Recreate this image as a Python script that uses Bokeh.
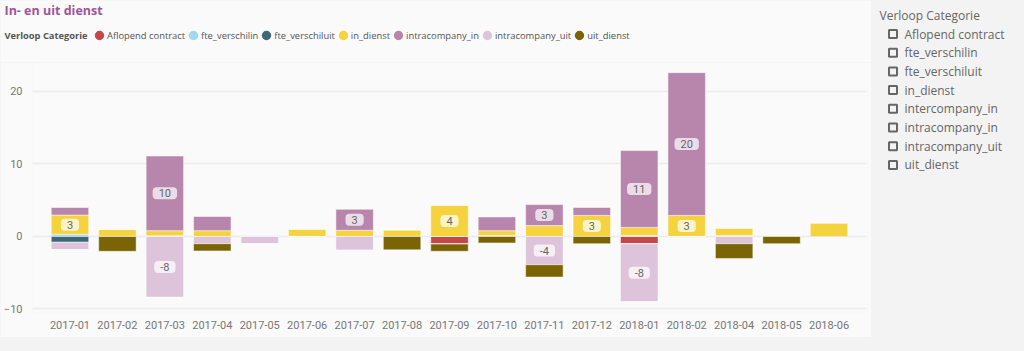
import numpy as np
from bokeh.plotting import figure
from bokeh.models import FactorRange, Range1d, Legend, LegendItem, FixedTicker
from bokeh.layouts import row, column
from bokeh.core.properties import value
from bokeh.embed import file_html
from bokeh.resources import INLINE

months = ["2017-01", "2017-02", "2017-03", "2017-04", "2017-05", "2017-06",
          "2017-07", "2017-08", "2017-09", "2017-10", "2017-11", "2017-12",
          "2018-01", "2018-02", "2018-04", "2018-05", "2018-06"]

aflopend_contract = [0, 0, 0, 0, 0, 0, 0, 0, -1.05, 0, 0, 0, -1.0, 0, 0, 0, 0]
fte_verschilin    = [0.3, 0, 0.1, 0, 0, 0, 0, 0, 0, 0.15, 0, 0, 0.15, 0, 0.15, 0, 0]
fte_verschiluit   = [-0.8, 0, 0, 0, 0, 0, 0, 0, 0, 0, 0, 0, 0, 0, 0, 0, -0.15]
in_dienst         = [2.65, 0.95, 0.7, 0.8, 0, 1.0, 0.85, 0.9, 4.3, 0.65, 1.5, 2.9, 1.1, 2.9, 1.0, 0, 1.85]
intracompany_in   = [1.05, 0, 10.3, 1.95, 0, 0, 2.9, 0, 0, 1.9, 2.9, 1.1, 10.6, 19.7, 0, 0, 0]
intracompany_uit  = [-1.0, 0, -8.4, -1.0, -1.0, 0, -1.9, 0, 0, 0, -3.9, 0, -8.0, 0, -1.0, 0, 0]
uit_dienst        = [0, -2.05, 0, -1.0, 0, 0, 0, -1.85, -1.0, -0.9, -1.7, -1.0, 0, 0, -2.05, -1.0, 0]

legend_names = ["Aflopend contract", "fte_verschilin", "fte_verschiluit", "in_dienst",
                "intracompany_in", "intracompany_uit", "uit_dienst"]
slicer_items = ["Aflopend contract", "fte_verschilin", "fte_verschiluit", "in_dienst",
                "intercompany_in", "intracompany_in", "intracompany_uit", "uit_dienst"]
y_ticks = [-10, 0, 10, 20]

chart_title = "In- en uit dienst"
legend_title = "Verloop Categorie"

colors = {
    "Aflopend contract": "#C4474A",
    "fte_verschilin": "#9FD9EE",
    "fte_verschiluit": "#3E6778",
    "in_dienst": "#F5D33F",
    "intracompany_in": "#B886AC",
    "intracompany_uit": "#DEC4DA",
    "uit_dienst": "#7A6405",
}

series = {
    "Aflopend contract": aflopend_contract,
    "fte_verschilin": fte_verschilin,
    "fte_verschiluit": fte_verschiluit,
    "in_dienst": in_dienst,
    "intracompany_in": intracompany_in,
    "intracompany_uit": intracompany_uit,
    "uit_dienst": uit_dienst,
}

FONT = "Open Sans"
NUMFONT = "Roboto"
PANEL = "#FAFAFA"
OUTER = "#F3F3F3"

W = 871
HEAD_H = 62
MAIN_H = 275


def bare(fig, bg):
    fig.background_fill_color = bg
    fig.border_fill_color = bg
    fig.outline_line_color = None
    fig.axis.visible = False
    fig.grid.visible = False


# ---------- header: title + legend ----------
h = figure(width=W, height=HEAD_H, x_range=Range1d(0, W), y_range=Range1d(HEAD_H, 0),
           output_backend="svg", toolbar_location=None,
           min_border_left=0, min_border_right=0, min_border_top=0, min_border_bottom=0)
bare(h, PANEL)
h.text(x=[4], y=[10], text=[chart_title], text_baseline="middle",
       text_font=value(FONT), text_font_size="12.5px", text_font_style="bold",
       text_color="#A0559A")
h.text(x=[4], y=[35], text=[legend_title], text_baseline="middle",
       text_font=value(FONT), text_font_size="9.3px", text_font_style="bold",
       text_color="#555555")

items = []
for name in legend_names:
    r = h.scatter(x=[-1000], y=[-1000], marker="circle", size=10,
                  fill_color=colors[name], line_color=colors[name], line_width=3)
    items.append(LegendItem(label=name, renderers=[r]))
legend = Legend(items=items, orientation="horizontal", location=(91, HEAD_H - 35 - 8))
legend.label_text_font = FONT
legend.label_text_font_size = "9.4px"
legend.label_text_color = "#555555"
legend.glyph_width = 16
legend.glyph_height = 16
legend.label_height = 16
legend.label_standoff = 0
legend.spacing = 0
legend.padding = 0
legend.margin = 0
legend.border_line_color = None
legend.background_fill_alpha = 0
h.add_layout(legend)

# ---------- main chart ----------
p = figure(width=W, height=MAIN_H,
           x_range=FactorRange(factors=months, range_padding=0.29, range_padding_units="absolute"),
           y_range=Range1d(-10.49, 24.0), output_backend="svg", toolbar_location=None,
           min_border_left=30, min_border_right=5, min_border_top=0, min_border_bottom=25)
p.background_fill_color = PANEL
p.border_fill_color = PANEL
p.outline_line_color = None

pos_base = np.zeros(len(months))
neg_base = np.zeros(len(months))
lab_x, lab_y, lab_t = [], [], []
for name in legend_names:
    vals = np.array(series[name], dtype=float)
    if vals.sum() >= 0:
        bottom = pos_base.copy()
        top = pos_base + vals
        pos_base = top
    else:
        bottom = neg_base.copy()
        top = neg_base + vals
        neg_base = top
    p.vbar(x=months, bottom=bottom, top=top, width=0.79, fill_color=colors[name],
           line_color="white", line_alpha=0.5, line_width=1)
    for i, v in enumerate(vals):
        if abs(v) >= 2.5:
            lab_x.append(months[i])
            lab_y.append((bottom[i] + top[i]) / 2)
            lab_t.append(str(int(round(v))))

p.text(x=lab_x, y=lab_y, text=lab_t, text_align="center", text_baseline="middle",
       text_font=value(NUMFONT), text_font_size="11px", text_color="#666666",
       background_fill_color="white", background_fill_alpha=0.72,
       border_radius=4, padding=(6, 2))

p.xgrid.grid_line_color = None
p.ygrid.grid_line_color = "#EBEBEB"
p.ygrid.grid_line_width = 1.5
p.yaxis.ticker = FixedTicker(ticks=y_ticks)
for ax in (p.xaxis, p.yaxis):
    ax.axis_line_color = None
    ax.major_tick_line_color = None
    ax.minor_tick_line_color = None
    ax.major_tick_out = 0
    ax.major_tick_in = 0
    ax.minor_tick_out = 0
    ax.minor_tick_in = 0
    ax.major_label_text_color = "#777777"
    ax.major_label_text_font = NUMFONT
    ax.major_label_text_font_size = "11px"
p.yaxis.major_label_standoff = 10
p.xaxis.major_label_standoff = 8

# ---------- slicer panel ----------
s = figure(width=153, height=351, x_range=Range1d(0, 153), y_range=Range1d(351, 0),
           output_backend="svg", toolbar_location=None,
           min_border_left=0, min_border_right=0, min_border_top=0, min_border_bottom=0)
bare(s, OUTER)
s.text(x=[8], y=[15], text=[legend_title], text_baseline="middle",
       text_font=value(FONT), text_font_size="12px", text_color="#666666")
ys = [33.5 + 18.7 * i for i in range(len(slicer_items))]
s.scatter(x=[21.5] * len(slicer_items), y=ys, marker="square", size=8,
          fill_color=None, line_color="#666666", line_width=2)
s.text(x=[33] * len(slicer_items), y=ys, text=slicer_items, text_baseline="middle",
       text_font=value(FONT), text_font_size="12px", text_color="#666666")

left = column(row(h), p, width=W, height=351, spacing=0, styles={"background-color": OUTER})
layout = row(left, s, width=1024, height=351, spacing=0, styles={"background-color": OUTER})

open("out.html", "w").write(file_html(layout, INLINE))
